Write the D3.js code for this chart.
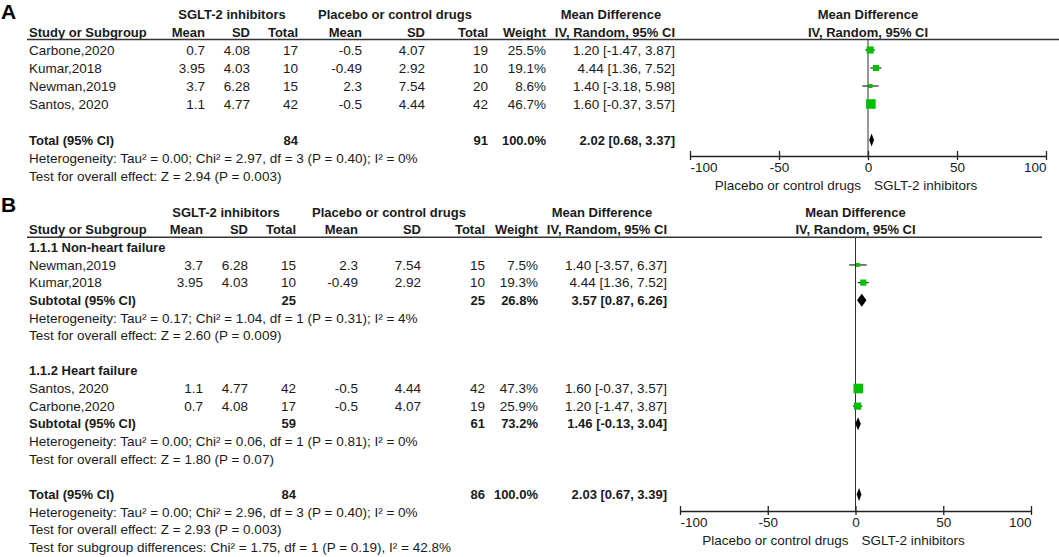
<!DOCTYPE html>
<html lang="en">
<head>
<meta charset="UTF-8">
<title>Forest plots SGLT-2</title>
<script src="https://cdn.jsdelivr.net/npm/d3@7"></script>
<style>
  body { margin: 0; background: #ffffff; }
  svg text { font-family: "Liberation Sans", Arial, sans-serif; fill: #1a1a1a; font-size: 13.5px; }
  svg text.b { font-weight: bold; font-size: 13px; }
  svg text.letter { font-weight: bold; font-size: 21px; fill: #000; }
</style>
</head>
<body>
<svg id="chart" width="1059" height="557"></svg>
<script>
// ---- panel A ----
var studyA = ["Carbone,2020", "Kumar,2018", "Newman,2019", "Santos, 2020"];
var sgltMeanA = [0.7, 3.95, 3.7, 1.1];
var sgltSdA = [4.08, 4.03, 6.28, 4.77];
var sgltNA = [17, 10, 15, 42];
var ctrlMeanA = [-0.5, -0.49, 2.3, -0.5];
var ctrlSdA = [4.07, 2.92, 7.54, 4.44];
var ctrlNA = [19, 10, 20, 42];
var weightA = [25.5, 19.1, 8.6, 46.7];
var mdA = [1.20, 4.44, 1.40, 1.60];
var loA = [-1.47, 1.36, -3.18, -0.37];
var hiA = [3.87, 7.52, 5.98, 3.57];
// total: sglt n, ctrl n, weight, md, lo, hi
var totalA = [84, 91, 100.0, 2.02, 0.68, 3.37];
var notesA = ["Heterogeneity: Tau\u00b2 = 0.00; Chi\u00b2 = 2.97, df = 3 (P = 0.40); I\u00b2 = 0%",
              "Test for overall effect: Z = 2.94 (P = 0.003)"];

// ---- panel B ----
var groupB = ["1.1.1 Non-heart failure", "1.1.2 Heart failure"];
var studyB = ["Newman,2019", "Kumar,2018", "Santos, 2020", "Carbone,2020"];
var studyGroupB = [0, 0, 1, 1];
var sgltMeanB = [3.7, 3.95, 1.1, 0.7];
var sgltSdB = [6.28, 4.03, 4.77, 4.08];
var sgltNB = [15, 10, 42, 17];
var ctrlMeanB = [2.3, -0.49, -0.5, -0.5];
var ctrlSdB = [7.54, 2.92, 4.44, 4.07];
var ctrlNB = [15, 10, 42, 19];
var weightB = [7.5, 19.3, 47.3, 25.9];
var mdB = [1.40, 4.44, 1.60, 1.20];
var loB = [-3.57, 1.36, -0.37, -1.47];
var hiB = [6.37, 7.52, 3.57, 3.87];
var subSgltNB = [25, 59];
var subCtrlNB = [25, 61];
var subWeightB = [26.8, 73.2];
var subMdB = [3.57, 1.46];
var subLoB = [0.87, -0.13];
var subHiB = [6.26, 3.04];
var subNotesB = [
  ["Heterogeneity: Tau\u00b2 = 0.17; Chi\u00b2 = 1.04, df = 1 (P = 0.31); I\u00b2 = 4%",
   "Test for overall effect: Z = 2.60 (P = 0.009)"],
  ["Heterogeneity: Tau\u00b2 = 0.00; Chi\u00b2 = 0.06, df = 1 (P = 0.81); I\u00b2 = 0%",
   "Test for overall effect: Z = 1.80 (P = 0.07)"]
];
var totalB = [84, 86, 100.0, 2.03, 0.67, 3.39];
var notesB = ["Heterogeneity: Tau\u00b2 = 0.00; Chi\u00b2 = 2.96, df = 3 (P = 0.40); I\u00b2 = 0%",
              "Test for overall effect: Z = 2.93 (P = 0.003)",
              "Test for subgroup differences: Chi\u00b2 = 1.75, df = 1 (P = 0.19), I\u00b2 = 42.8%"];

// shared labels
var groupHeads = ["SGLT-2 inhibitors", "Placebo or control drugs", "Mean Difference"];
var colHeads = ["Mean", "SD", "Total", "Mean", "SD", "Total", "Weight", "IV, Random, 95% CI"];
var tickVals = [-100, -50, 0, 50, 100];
var favours = ["Placebo or control drugs", "SGLT-2 inhibitors"];

var green = "#00bf00";
var sizeScale = d3.scaleSqrt().domain([0, 100]).range([0, 14]);

function ci(m, l, h) {
  return m.toFixed(2) + " [" + l.toFixed(2) + ", " + h.toFixed(2) + "]";
}
function studyRow(name, a, b, c, d, e, f, w, m, l, h) {
  return {kind: "study", label: name, cells: [a, b, c, d, e, f, w.toFixed(1) + "%", ci(m, l, h)],
          w: w, md: m, lo: l, hi: h};
}
function sumRow(label, n1, n2, w, m, l, h) {
  return {kind: "sum", label: label, cells: ["", "", n1, "", "", n2, w.toFixed(1) + "%", ci(m, l, h)],
          md: m, lo: l, hi: h};
}

// rows for A
var rowsA = [];
studyA.forEach(function(s, i) {
  rowsA.push(studyRow(s, sgltMeanA[i], sgltSdA[i], sgltNA[i], ctrlMeanA[i], ctrlSdA[i], ctrlNA[i],
                      weightA[i], mdA[i], loA[i], hiA[i]));
});
rowsA.push({kind: "blank"});
rowsA.push(sumRow("Total (95% CI)", totalA[0], totalA[1], totalA[2], totalA[3], totalA[4], totalA[5]));
notesA.forEach(function(t) { rowsA.push({kind: "note", label: t}); });

// rows for B
var rowsB = [];
groupB.forEach(function(g, gi) {
  rowsB.push({kind: "group", label: g});
  studyB.forEach(function(s, i) {
    if (studyGroupB[i] !== gi) return;
    rowsB.push(studyRow(s, sgltMeanB[i], sgltSdB[i], sgltNB[i], ctrlMeanB[i], ctrlSdB[i], ctrlNB[i],
                        weightB[i], mdB[i], loB[i], hiB[i]));
  });
  rowsB.push(sumRow("Subtotal (95% CI)", subSgltNB[gi], subCtrlNB[gi], subWeightB[gi],
                    subMdB[gi], subLoB[gi], subHiB[gi]));
  subNotesB[gi].forEach(function(t) { rowsB.push({kind: "note", label: t}); });
  rowsB.push({kind: "blank"});
});
rowsB.push(sumRow("Total (95% CI)", totalB[0], totalB[1], totalB[2], totalB[3], totalB[4], totalB[5]));
notesB.forEach(function(t) { rowsB.push({kind: "note", label: t}); });

var svg = d3.select("#chart");

function drawPanel(cfg, rows) {
  var g = svg.append("g");
  var y = d3.scaleLinear().domain([0, 1]).range([cfg.top, cfg.top + cfg.step]);
  var x = d3.scaleLinear().domain([-100, 100]).range(cfg.plot);

  g.append("text").attr("class", "letter").attr("x", 1).attr("y", cfg.letterY)
    .attr("dy", "0.35em").text(cfg.letter);

  // header row 1
  g.selectAll(".gh").data(groupHeads).enter().append("text")
    .attr("class", "b").attr("text-anchor", "middle")
    .attr("x", function(d, i) { return cfg.heads[i]; })
    .attr("y", y(0)).attr("dy", "0.35em").text(function(d) { return d; });
  g.append("text").attr("class", "b").attr("text-anchor", "middle")
    .attr("x", x(0)).attr("y", y(0)).attr("dy", "0.35em").text(groupHeads[2]);

  // header row 2
  g.append("text").attr("class", "b").attr("x", 29).attr("y", y(1)).attr("dy", "0.35em")
    .text("Study or Subgroup");
  g.selectAll(".ch").data(colHeads).enter().append("text")
    .attr("class", "b").attr("text-anchor", "end")
    .attr("x", function(d, i) { return cfg.cols[i]; })
    .attr("y", y(1)).attr("dy", "0.35em").text(function(d) { return d; });
  g.append("text").attr("class", "b").attr("text-anchor", "middle")
    .attr("x", x(0)).attr("y", y(1)).attr("dy", "0.35em").text(colHeads[7]);

  var lineY = y(1) + 7.5;
  g.append("line").attr("x1", 27).attr("x2", cfg.lineEnd).attr("y1", lineY).attr("y2", lineY)
    .attr("stroke", "#333").attr("stroke-width", 1.5);

  // zero line
  g.append("line").attr("x1", x(0)).attr("x2", x(0)).attr("y1", lineY).attr("y2", cfg.axisY)
    .attr("stroke", "#333").attr("stroke-width", 1);

  rows.forEach(function(r, i) {
    var yy = y(i + 2);
    if (r.kind === "blank") return;
    var bold = r.kind === "sum" || r.kind === "group";
    g.append("text").attr("class", bold ? "b" : null).attr("x", 29).attr("y", yy)
      .attr("dy", "0.35em").text(r.label);
    if (!r.cells) return;
    r.cells.forEach(function(c, k) {
      if (c === "") return;
      g.append("text").attr("class", bold ? "b" : null).attr("text-anchor", "end")
        .attr("x", cfg.cols[k]).attr("y", yy).attr("dy", "0.35em").text(String(c));
    });
    if (r.kind === "study") {
      g.append("line").attr("x1", x(r.lo)).attr("x2", x(r.hi)).attr("y1", yy).attr("y2", yy)
        .attr("stroke", "#222").attr("stroke-width", 1.2);
      var s = sizeScale(r.w);
      g.append("rect").attr("x", x(r.md) - s / 2).attr("y", yy - s / 2)
        .attr("width", s).attr("height", s).attr("fill", green);
    } else {
      var h = 6.5;
      g.append("path")
        .attr("d", "M" + x(r.lo) + "," + yy + "L" + x(r.md) + "," + (yy - h) +
                   "L" + x(r.hi) + "," + yy + "L" + x(r.md) + "," + (yy + h) + "Z")
        .attr("fill", "#000");
    }
  });

  // axis
  var ax = g.append("g").attr("transform", "translate(0," + cfg.axisY + ")")
    .call(d3.axisBottom(x).tickValues(tickVals).tickSizeInner(-5).tickSizeOuter(0)
      .tickPadding(6).tickFormat(function(d) { return String(d); }));
  ax.attr("font-family", null).attr("font-size", null);
  ax.select(".domain").attr("stroke", "#222").attr("stroke-width", 1.3);
  ax.selectAll(".tick line").attr("y1", 4).attr("stroke", "#222").attr("stroke-width", 1.3);
  ax.selectAll(".tick text").attr("fill", "#1a1a1a")
    .attr("text-anchor", function(d, i) { return i === 0 ? "start" : (i === tickVals.length - 1 ? "end" : "middle"); });

  g.append("text").attr("text-anchor", "end").attr("x", x(0) - 7).attr("y", cfg.axisY + cfg.favOff)
    .attr("dy", "0.35em").text(favours[0]);
  g.append("text").attr("text-anchor", "start").attr("x", x(0) + 6).attr("y", cfg.axisY + cfg.favOff)
    .attr("dy", "0.35em").text(favours[1]);
}

drawPanel({letter: "A", letterY: 12, top: 14, step: 18,
           plot: [690, 1046], axisY: 156, favOff: 29, lineEnd: 1059,
           heads: [232, 395, 611],
           cols: [205, 250, 298, 362, 425, 488, 546, 675]}, rowsA);

drawPanel({letter: "B", letterY: 205, top: 212, step: 17.65,
           plot: [680, 1031], axisY: 511, favOff: 29, lineEnd: 1042,
           heads: [226, 389, 602],
           cols: [203, 248, 296, 358, 421, 485, 538, 667]}, rowsB);
</script>
</body>
</html>
